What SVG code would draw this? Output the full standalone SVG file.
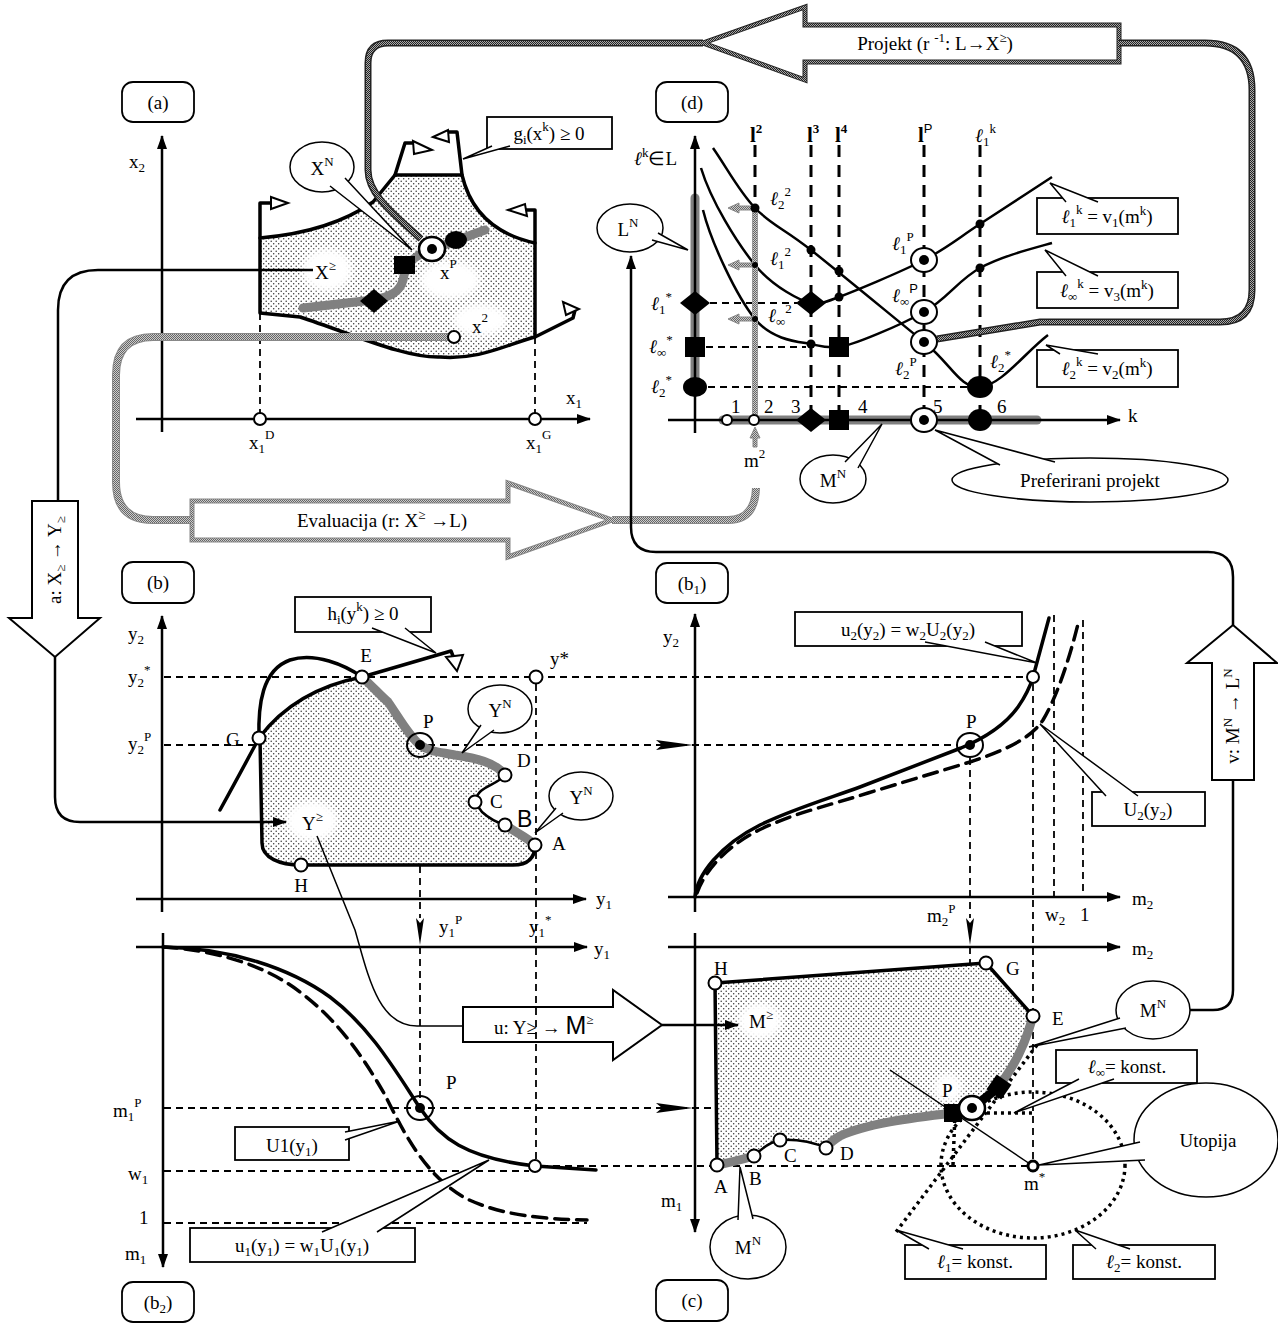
<svg xmlns="http://www.w3.org/2000/svg" width="1278" height="1323" viewBox="0 0 1278 1323">
<defs>
<style>
.t{font-family:"Liberation Serif","Times New Roman",serif;font-size:19px;fill:#000}
.c{text-anchor:middle}
.s{font-size:13px}
.it{font-style:italic}
.bd{font-weight:bold;font-size:21px}
.ax{stroke:#000;stroke-width:2.5;fill:none}
.ds{stroke:#000;stroke-width:1.8;stroke-dasharray:7 5;fill:none}
.td{stroke:#000;stroke-width:3;stroke-dasharray:12 8;fill:none}
.th{stroke:#000;stroke-width:3.5;fill:none;stroke-linejoin:round;stroke-linecap:round}
.md{stroke:#000;stroke-width:2.5;fill:none;stroke-linejoin:round}
.gr{stroke:#808080;stroke-width:9;fill:none;stroke-linecap:round;stroke-linejoin:round}
.oc{fill:#fff;stroke:#000;stroke-width:2}
.tn{stroke:#000;stroke-width:1.5;fill:none}
.bx{fill:#fff;stroke:#000;stroke-width:1.8}
.cw{fill:#fff;stroke:#000;stroke-width:1.5}
.dt{stroke:#000;stroke-width:3.5;stroke-dasharray:3 4;fill:none}
.ht{fill:#fff;stroke:#000;stroke-width:2}
.lab{fill:#fff;stroke:#000;stroke-width:1.8}
.bl{fill:#000}
.reg{fill:url(#st)}
.blob{fill:#fff;filter:url(#blur)}
.pk1{stroke:#222;stroke-width:7;fill:none}
.pk2{stroke:url(#ck);stroke-width:4;fill:none}
.pg1{stroke:#888;stroke-width:8;fill:none}
.pg2{stroke:url(#ckg);stroke-width:6;fill:none}
</style>
<pattern id="st" width="5" height="5" patternUnits="userSpaceOnUse"><rect width="5" height="5" fill="#fff"/><circle cx="1.2" cy="1.2" r="0.75" fill="#333"/><circle cx="3.7" cy="3.7" r="0.75" fill="#333"/></pattern>
<pattern id="ck" width="2" height="2" patternUnits="userSpaceOnUse"><rect width="2" height="2" fill="#aaa"/><rect width="1" height="1" fill="#222"/><rect x="1" y="1" width="1" height="1" fill="#222"/></pattern>
<pattern id="ckg" width="2" height="2" patternUnits="userSpaceOnUse"><rect width="2" height="2" fill="#ccc"/><rect width="1" height="1" fill="#666"/><rect x="1" y="1" width="1" height="1" fill="#666"/></pattern>
<filter id="blur" x="-50%" y="-50%" width="200%" height="200%"><feGaussianBlur stdDeviation="3"/></filter>
<marker id="ah" viewBox="0 0 14 10" refX="13" refY="5" markerWidth="14" markerHeight="10" markerUnits="userSpaceOnUse" orient="auto"><path d="M0,0 L14,5 L0,10 z" fill="#000"/></marker>
</defs>
<rect width="1278" height="1323" fill="#fff"/>

<g id="arrow-projekt">
  <polygon points="1119,25 805,25 805,7 703,43 805,80 805,62 1119,62" fill="#fff" stroke="#222" stroke-width="5"/>
  <polygon points="1119,25 805,25 805,7 703,43 805,80 805,62 1119,62" fill="none" stroke="url(#ck)" stroke-width="3"/>
  <text class="t c" x="935" y="50" font-size="20">Projekt (r <tspan class="s" dy="-8">-1</tspan><tspan dy="8">: L→X</tspan><tspan class="s" dy="-8">≥</tspan><tspan dy="8">)</tspan></text>
</g>

<g id="arrow-evaluacija">
  <polygon points="192,501 508,501 508,483 612,520 508,557 508,540 192,540" fill="#fff" stroke="#888" stroke-width="5"/>
  <polygon points="192,501 508,501 508,483 612,520 508,557 508,540 192,540" fill="none" stroke="url(#ckg)" stroke-width="3"/>
  <text class="t c" x="382" y="527" font-size="20">Evaluacija (r: X<tspan class="s" dy="-8">≥</tspan><tspan dy="8"> →L)</tspan></text>
</g>

<g id="arrow-a">
  <polygon points="32,501 78,501 78,618 100,618 55,657 9,618 32,618" class="ht"/>
  <text class="t c" transform="translate(61,560) rotate(-90)" font-size="18">a: X<tspan class="s" dy="4">≥</tspan><tspan dy="-4"> → Y</tspan><tspan class="s" dy="4">≥</tspan></text>
</g>

<g id="arrow-v">
  <polygon points="1212,780 1212,663 1187,663 1233,625 1277,663 1254,663 1254,780" class="ht"/>
  <text class="t c" transform="translate(1239,716) rotate(-90)" font-size="18">v: M<tspan class="s" dy="-7">N</tspan><tspan dy="7"> → L</tspan><tspan class="s" dy="-7">N</tspan></text>
</g>

<g id="arrow-u">
  <polygon points="463,1007 613,1007 613,990 662,1025 613,1060 613,1042 463,1042" class="ht"/>
  <text class="t" x="494" y="1034">u: Y≥ → <tspan font-family="Liberation Sans, Arial, sans-serif" font-size="25">M</tspan><tspan class="s" dy="-10">≥</tspan></text>
</g>

<!-- ================= PANEL A ================= -->
<g id="panel-a">
  <rect class="lab" x="122" y="82" width="72" height="40" rx="11"/>
  <text class="t c" x="158" y="109" font-size="20">(a)</text>
  <path class="ax" d="M162,432 V136" marker-end="url(#ah)"/>
  <path class="ax" d="M136,419 H590" marker-end="url(#ah)"/>
  <path class="ds" d="M260,313 V413 M535,337 V413"/>
  <path class="reg" d="M260,238 Q330,232 373,202 L395,175 L462,175 Q475,230 535,243 L535,337 C505,345 480,360 440,357 C405,358 355,335 300,317 L260,313 Z"/>
  <ellipse class="blob" cx="327" cy="270" rx="25" ry="21"/>
  <ellipse class="blob" cx="450" cy="280" rx="30" ry="19"/>
  <ellipse class="blob" cx="480" cy="320" rx="27" ry="16"/>
  <path class="th" d="M260,238 Q330,232 373,202 L395,175 L462,175 Q475,230 535,243 L535,337 C505,345 480,360 440,357 C405,358 355,335 300,317 L260,313 Z"/>
  <path class="th" d="M260,238 V203 H270 M395,175 L405,143 H413 M462,175 L457,132 H448 M535,243 V210 H526 M535,337 L573,318 L575,310"/>
  <polygon class="ht" points="271,197 288,203 271,209"/>
  <polygon class="ht" points="413,141 432,150 414,154"/>
  <polygon class="ht" points="433,137 448,130 449,142"/>
  <polygon class="ht" points="508,210 525,204 527,216"/>
  <polygon class="ht" points="563,302 579,309 566,315"/>
  <path class="gr" d="M303,308 L373,300 C390,297 400,292 403,280 C405,268 410,258 425,252 L485,230"/>
  <polygon class="bl" points="360,301 374,289 388,301 374,313"/>
  <rect class="bl" x="394" y="256" width="21" height="18"/>
  <ellipse cx="432" cy="249" rx="13" ry="12" fill="#fff" stroke="#000" stroke-width="2.5"/>
  <circle class="bl" cx="432" cy="249" r="5"/>
  <ellipse class="bl" cx="456" cy="240" rx="11" ry="9"/>
  <circle class="oc" cx="260" cy="419" r="6"/>
  <circle class="oc" cx="535" cy="419" r="6"/>
  <text class="t" x="129" y="168">x<tspan class="s" dy="4">2</tspan></text>
  <text class="t" x="566" y="404">x<tspan class="s" dy="4">1</tspan></text>
  <text class="t" x="249" y="449">x<tspan class="s" dy="4">1</tspan><tspan class="s" dy="-14">D</tspan></text>
  <text class="t" x="526" y="449">x<tspan class="s" dy="4">1</tspan><tspan class="s" dy="-14">G</tspan></text>
  <text class="t" x="315" y="279">X<tspan class="s" dy="-9">≥</tspan></text>
  <text class="t" x="440" y="279">x<tspan class="s" dy="-11">P</tspan></text>
  <text class="t" x="472" y="333">x<tspan class="s" dy="-11">2</tspan></text>
</g>

<!-- ================= PANEL D ================= -->
<g id="panel-d">
  <rect class="lab" x="656" y="82" width="72" height="40" rx="11"/>
  <text class="t c" x="692" y="109" font-size="20">(d)</text>
  <path class="gr" d="M695,198 V387" stroke-width="10" stroke-linecap="butt"/>
  <path class="gr" d="M723,420 H1037" stroke-width="10" stroke-linecap="butt"/>
  <path class="ax" d="M695,433 V136" marker-end="url(#ah)"/>
  <path class="ax" d="M668,420 H1120" marker-end="url(#ah)"/>
  <path class="td" d="M755,145 V205 M811,145 V420 M839,145 V420 M924,145 V420 M980,145 V420"/>
  <path class="ds" d="M710,303 H797 M706,347 H806 M708,387 H968"/>
  <path class="md" d="M713,148 C727,168 738.7,191 755,208 C771.3,225 782.8,227.7 811,250 C839.2,272.3 895.8,319.2 924,342 C952.2,364.8 959.3,388.2 980,387 C1000.7,385.8 1025.3,352.3 1048,335"/>
  <path class="md" d="M701,168 C711,201 736.7,242.5 755,265 C773.3,287.5 801.7,301.3 811,303 C820.3,304.7 825,302.3 839,297 C853,291.7 900.5,272.2 924,260 C947.5,247.8 958.7,237.8 980,224 C1001.3,210.2 1028,192.7 1052,177"/>
  <path class="md" d="M703,210 C711.3,243.3 737,296.7 755,319 C773,341.3 801.7,342 811,344 C820.3,346 825.7,348.3 839,347 C852.3,345.7 900.5,325.2 924,312 C947.5,298.8 958.7,279.5 980,268 C1001.3,256.5 1028,249.7 1052,243"/>
  <path stroke="#999" stroke-width="6" fill="none" d="M755,208 V420"/>
  <path stroke="url(#ckg)" stroke-width="4" fill="none" d="M755,208 V420"/>
  <g fill="url(#ckg)" stroke="#888" stroke-width="1">
    <path d="M752,206 H739 V203 L728,208 L739,213 V210 H752 Z"/>
    <path d="M752,263 H739 V260 L728,265 L739,270 V267 H752 Z"/>
    <path d="M752,317 H739 V314 L728,319 L739,324 V321 H752 Z"/>
    <path d="M753,447 V438 H750 L755,427 L760,438 H757 V447 Z"/>
  </g>
  <g class="bl">
    <circle cx="755" cy="208" r="4.5"/><circle cx="811" cy="250" r="4.5"/><circle cx="839" cy="271" r="4.5"/>
    <circle cx="839" cy="297" r="4.5"/><circle cx="811" cy="344" r="4.5"/><circle cx="980" cy="224" r="4.5"/>
    <circle cx="980" cy="268" r="4.5"/><circle cx="755" cy="265" r="3"/><circle cx="755" cy="319" r="3"/>
  </g>
  <polygon class="bl" points="680,303 695,291 710,303 695,315"/>
  <rect class="bl" x="685" y="337" width="20" height="20"/>
  <ellipse class="bl" cx="695" cy="387" rx="12" ry="10"/>
  <polygon class="bl" points="796,303 811,291 826,303 811,315"/>
  <rect class="bl" x="829" y="337" width="20" height="20"/>
  <ellipse class="bl" cx="980" cy="387" rx="13" ry="11"/>
  <polygon class="bl" points="796,420 811,408 826,420 811,432"/>
  <rect class="bl" x="829" y="410" width="20" height="20"/>
  <ellipse class="bl" cx="980" cy="420" rx="12" ry="11"/>
  <circle class="oc" cx="727" cy="420" r="5"/>
  <circle class="oc" cx="754" cy="420" r="5"/>
  <g>
    <ellipse cx="924" cy="260" rx="13" ry="12" fill="#fff" stroke="#000" stroke-width="2"/><circle class="bl" cx="924" cy="260" r="5"/>
    <ellipse cx="924" cy="312" rx="13" ry="12" fill="#fff" stroke="#000" stroke-width="2"/><circle class="bl" cx="924" cy="312" r="5"/>
    <ellipse cx="924" cy="420" rx="13" ry="12" fill="#fff" stroke="#000" stroke-width="2"/><circle class="bl" cx="924" cy="420" r="5"/>
  </g>
  <text class="t" x="634" y="165"><tspan class="it">ℓ</tspan><tspan class="s" dy="-8">k</tspan><tspan dy="8">∈L</tspan></text>
  <text class="t bd" x="750" y="142">l<tspan class="s" dy="-9">2</tspan></text>
  <text class="t bd" x="807" y="142">l<tspan class="s" dy="-9">3</tspan></text>
  <text class="t bd" x="835" y="142">l<tspan class="s" dy="-9">4</tspan></text>
  <text class="t bd" x="918" y="142">l<tspan class="s" dy="-9" font-family="Liberation Sans, Arial, sans-serif" font-weight="normal">P</tspan></text>
  <text class="t" x="975" y="142"><tspan class="it">ℓ</tspan><tspan class="s" dy="4">1</tspan><tspan class="s" dy="-13">k</tspan></text>
  <text class="t" x="770" y="205"><tspan class="it">ℓ</tspan><tspan class="s" dy="4">2</tspan><tspan class="s" dy="-13">2</tspan></text>
  <text class="t" x="770" y="265"><tspan class="it">ℓ</tspan><tspan class="s" dy="4">1</tspan><tspan class="s" dy="-13">2</tspan></text>
  <text class="t" x="768" y="322"><tspan class="it">ℓ</tspan><tspan class="s" dy="4">∞</tspan><tspan class="s" dy="-13">2</tspan></text>
  <text class="t" x="651" y="310"><tspan class="it">ℓ</tspan><tspan class="s" dy="4">1</tspan><tspan class="s" dy="-13">*</tspan></text>
  <text class="t" x="649" y="353"><tspan class="it">ℓ</tspan><tspan class="s" dy="4">∞</tspan><tspan class="s" dy="-13">*</tspan></text>
  <text class="t" x="651" y="393"><tspan class="it">ℓ</tspan><tspan class="s" dy="4">2</tspan><tspan class="s" dy="-13">*</tspan></text>
  <text class="t" x="892" y="250"><tspan class="it">ℓ</tspan><tspan class="s" dy="4">1</tspan><tspan class="s" dy="-13">P</tspan></text>
  <text class="t" x="892" y="302"><tspan class="it">ℓ</tspan><tspan class="s" dy="4">∞</tspan><tspan class="s" dy="-13" font-family="Liberation Sans, Arial, sans-serif">P</tspan></text>
  <text class="t" x="895" y="375"><tspan class="it">ℓ</tspan><tspan class="s" dy="4">2</tspan><tspan class="s" dy="-13">P</tspan></text>
  <text class="t" x="990" y="368"><tspan class="it">ℓ</tspan><tspan class="s" dy="4">2</tspan><tspan class="s" dy="-13">*</tspan></text>
  <text class="t" x="731" y="413">1</text>
  <text class="t" x="764" y="413">2</text>
  <text class="t" x="791" y="413">3</text>
  <text class="t" x="858" y="413">4</text>
  <text class="t" x="933" y="413">5</text>
  <text class="t" x="997" y="413">6</text>
  <text class="t" x="1128" y="422">k</text>
  <text class="t" x="744" y="467">m<tspan class="s" dy="-9">2</tspan></text>
</g>

<!-- ================= PANEL B ================= -->
<g id="panel-b">
  <rect class="lab" x="122" y="562" width="72" height="41" rx="11"/>
  <text class="t c" x="158" y="589" font-size="20">(b)</text>
  <path class="ax" d="M162,912 V616" marker-end="url(#ah)"/>
  <path class="ax" d="M136,899 H586" marker-end="url(#ah)"/>
  <path class="ds" d="M164,677 H1026 M164,745 H958 M420,758 V918 M536,684 V1160"/>
  <polygon class="bl" points="656,740 693,745 656,750 662,745"/>
  <polygon class="bl" points="416,918 420,945 424,918 420,923"/>
  <path class="reg" d="M362,677 C372,686 380,695 388,702 C398,716 408,735 420,745 C430,752 440,752 455,755 C475,758 495,762 505,775 C495,787 478,785 475,802 L482,812 Q492,821 505,825 C515,832 528,838 535,845 C535,858 528,865 513,865 L301,865 C280,865 262,858 262,843 L260,738 Q295,690 362,677 Z"/>
  <ellipse class="blob" cx="312" cy="821" rx="26" ry="20"/>
  <path class="gr" d="M362,677 C372,686 380,695 388,702 C398,716 408,735 420,745 C430,752 440,752 455,755 C475,758 495,762 505,775"/>
  <path class="gr" d="M505,825 C515,832 528,838 535,845"/>
  <path class="md" d="M505,775 C495,787 478,785 475,802 L482,812 Q492,821 505,825"/>
  <path class="th" d="M535,845 C535,858 528,865 513,865 L301,865 C280,865 262,858 262,843 L260,738"/>
  <path class="th" d="M220,810 Q242,770 259,738 Q295,690 362,677 L451,651 L453,656"/>
  <path class="th" d="M259,738 C258,705 262,670 290,660 C315,652 345,665 362,677"/>
  <polygon class="ht" points="446,657 463,655 457,671"/>
  <circle class="oc" cx="362" cy="677" r="6.5"/>
  <circle class="oc" cx="259" cy="738" r="6.5"/>
  <circle class="oc" cx="301" cy="865" r="6.5"/>
  <circle class="oc" cx="535" cy="845" r="6.5"/>
  <circle class="oc" cx="505" cy="825" r="6.5"/>
  <circle class="oc" cx="475" cy="802" r="6.5"/>
  <circle class="oc" cx="505" cy="775" r="6.5"/>
  <circle class="oc" cx="536" cy="677" r="6.5"/>
  <ellipse cx="420" cy="745" rx="13" ry="12" fill="none" stroke="#000" stroke-width="2"/>
  <circle class="bl" cx="420" cy="745" r="5"/>
  <text class="t" x="128" y="640">y<tspan class="s" dy="4">2</tspan></text>
  <text class="t" x="128" y="683">y<tspan class="s" dy="4">2</tspan><tspan class="s" dy="-13">*</tspan></text>
  <text class="t" x="128" y="750">y<tspan class="s" dy="4">2</tspan><tspan class="s" dy="-13">P</tspan></text>
  <text class="t" x="596" y="905">y<tspan class="s" dy="4">1</tspan></text>
  <text class="t" x="439" y="933">y<tspan class="s" dy="4">1</tspan><tspan class="s" dy="-13">P</tspan></text>
  <text class="t" x="529" y="933">y<tspan class="s" dy="4">1</tspan><tspan class="s" dy="-13">*</tspan></text>
  <text class="t c" x="366" y="662">E</text>
  <text class="t" x="226" y="746">G</text>
  <text class="t" x="423" y="728">P</text>
  <text class="t" x="517" y="767">D</text>
  <text class="t" x="490" y="808">C</text>
  <text x="517" y="827" font-family="Liberation Sans, Arial, sans-serif" font-size="23">B</text>
  <text class="t" x="552" y="850">A</text>
  <text class="t c" x="301" y="892">H</text>
  <text class="t" x="550" y="665">y*</text>
  <text class="t" x="302" y="830">Y<tspan class="s" dy="-9">≥</tspan></text>
</g>

<!-- ================= PANEL B1 ================= -->
<g id="panel-b1">
  <rect class="lab" x="656" y="563" width="72" height="40" rx="11"/>
  <text class="t c" x="692" y="590" font-size="20">(b<tspan class="s" dy="4">1</tspan><tspan dy="-4">)</tspan></text>
  <path class="ax" d="M695,912 V614" marker-end="url(#ah)"/>
  <path class="ax" d="M668,897 H1120" marker-end="url(#ah)"/>
  <path class="ds" d="M970,758 V918 M1033,684 V1160 M1054,615 V897 M1083,620 V897" />
  <polygon class="bl" points="966,918 970,945 974,918 970,923"/>
  <path class="th" d="M695,897 C697,875 720,845 760,825 C790,810 830,798 860,787 L961,748 C985,738 1005,725 1018,707 C1025,697 1030,687 1033,677 L1049,618" stroke-width="3"/>
  <path class="th" d="M697,893 C705,870 730,840 775,823 C800,812 830,805 868,793 L970,762 C1000,752 1030,740 1043,720 C1055,700 1068,665 1079,620" stroke-width="3.5" stroke-dasharray="14 8" stroke-linecap="butt"/>
  <circle class="oc" cx="1033" cy="677" r="6"/>
  <ellipse cx="970" cy="745" rx="13" ry="12" fill="none" stroke="#000" stroke-width="2"/>
  <circle class="bl" cx="970" cy="745" r="5"/>
  <text class="t" x="663" y="643">y<tspan class="s" dy="4">2</tspan></text>
  <text class="t" x="966" y="728">P</text>
  <text class="t" x="1132" y="905">m<tspan class="s" dy="4">2</tspan></text>
  <text class="t" x="927" y="922">m<tspan class="s" dy="4">2</tspan><tspan class="s" dy="-13">P</tspan></text>
  <text class="t" x="1045" y="921">w<tspan class="s" dy="4">2</tspan></text>
  <text class="t" x="1080" y="921">1</text>
</g>

<!-- ================= PANEL B2 ================= -->
<g id="panel-b2">
  <path class="ax" d="M136,947 H587" marker-end="url(#ah)"/>
  <path class="ax" d="M163,933 V1267" marker-end="url(#ah)"/>
  <path class="ds" d="M420,947 V1108 M164,1108 H958 M164,1171 H529 M541,1166 H1028 M164,1223 H587"/>
  <polygon class="bl" points="656,1103 693,1108 656,1113 662,1108"/>
  <path class="th" d="M163,947 C230,948 290,968 330,997 C370,1027 395,1070 420,1108 C440,1138 465,1158 535,1166 L596,1170" stroke-width="3"/>
  <path class="th" d="M163,947 C215,950 265,965 300,992 C340,1022 365,1060 385,1095 C405,1135 425,1175 465,1198 C500,1215 540,1219 587,1220" stroke-width="3.5" stroke-dasharray="14 8" stroke-linecap="butt"/>
  <circle class="oc" cx="535" cy="1166" r="6"/>
  <ellipse cx="420" cy="1108" rx="13" ry="12" fill="none" stroke="#000" stroke-width="2"/>
  <circle class="bl" cx="420" cy="1108" r="5"/>
  <text class="t" x="594" y="955">y<tspan class="s" dy="4">1</tspan></text>
  <text class="t" x="113" y="1117">m<tspan class="s" dy="4">1</tspan><tspan class="s" dy="-14">P</tspan></text>
  <text class="t" x="128" y="1180">w<tspan class="s" dy="4">1</tspan></text>
  <text class="t" x="139" y="1224">1</text>
  <text class="t" x="125" y="1260">m<tspan class="s" dy="4">1</tspan></text>
  <text class="t" x="446" y="1089">P</text>
  <rect class="lab" x="122" y="1282" width="72" height="40" rx="11"/>
  <text class="t c" x="158" y="1309" font-size="20">(b<tspan class="s" dy="4">2</tspan><tspan dy="-4">)</tspan></text>
</g>

<!-- ================= PANEL C ================= -->
<g id="panel-c">
  <path class="ax" d="M668,947 H1120" marker-end="url(#ah)"/>
  <path class="ax" d="M695,933 V1232" marker-end="url(#ah)"/>
  <path class="ds" d="M970,947 V1100"/>
  <path class="reg" d="M715,983 L986,963 L1033,1016 C1025,1045 1012,1070 998,1087 L972,1108 L953,1113 C910,1118 865,1124 840,1136 C833,1140 829,1144 826,1148 C815,1143 800,1139 780,1140 C770,1142 762,1148 754,1156 C740,1160 728,1163 717,1165 Z"/>
  <ellipse class="blob" cx="760" cy="1021" rx="22" ry="18"/>
  <ellipse class="blob" cx="948" cy="1088" rx="14" ry="14"/>
  <path class="th" d="M717,1165 L715,983 L986,963 L1033,1016"/>
  <path class="gr" d="M1033,1016 C1025,1045 1012,1070 998,1087"/>
  <path class="gr" d="M953,1113 C910,1118 865,1124 840,1136 C833,1140 829,1144 826,1148"/>
  <path class="gr" d="M754,1156 C740,1160 728,1163 717,1165"/>
  <path class="md" d="M826,1148 C815,1143 800,1139 780,1140 C770,1142 762,1148 754,1156"/>
  <path stroke="#000" stroke-width="9" d="M999,1087 L975,1106"/>
  <path class="tn" d="M890,1070 L1033,1166"/>
  <path class="dt" d="M1037,1045 L896,1232"/>
  <path class="dt" d="M953,1165 L955,1113 L1033,1113"/>
  <ellipse class="dt" cx="1033" cy="1165" rx="92" ry="73"/>
  <rect class="bl" x="-9" y="-9" width="18" height="18" transform="translate(999,1087) rotate(35)"/>
  <rect class="bl" x="944" y="1104" width="18" height="18"/>
  <ellipse cx="972" cy="1108" rx="13" ry="12" fill="#fff" stroke="#000" stroke-width="2.5"/>
  <circle class="bl" cx="972" cy="1108" r="5"/>
  <circle class="oc" cx="715" cy="983" r="6.5"/>
  <circle class="oc" cx="986" cy="963" r="6.5"/>
  <circle class="oc" cx="1033" cy="1016" r="6.5"/>
  <circle class="oc" cx="826" cy="1148" r="6.5"/>
  <circle class="oc" cx="780" cy="1140" r="6.5"/>
  <circle class="oc" cx="754" cy="1156" r="6.5"/>
  <circle class="oc" cx="717" cy="1165" r="6.5"/>
  <circle cx="1033" cy="1166" r="5" fill="#fff" stroke="#000" stroke-width="3"/>
  <text class="t" x="1132" y="955">m<tspan class="s" dy="4">2</tspan></text>
  <text class="t" x="661" y="1207">m<tspan class="s" dy="4">1</tspan></text>
  <text class="t" x="714" y="975">H</text>
  <text class="t" x="1006" y="975">G</text>
  <text class="t" x="1052" y="1025">E</text>
  <text class="t" x="942" y="1097">P</text>
  <text class="t" x="840" y="1160">D</text>
  <text class="t" x="784" y="1162">C</text>
  <text class="t" x="749" y="1185">B</text>
  <text class="t" x="714" y="1193">A</text>
  <text class="t" x="1024" y="1190">m<tspan class="s" dy="-9">*</tspan></text>
  <text class="t" x="749" y="1028">M<tspan class="s" dy="-9">≥</tspan></text>
  <rect class="lab" x="656" y="1280" width="72" height="41" rx="11"/>
  <text class="t c" x="692" y="1307" font-size="20">(c)</text>
</g>

<g id="connectors">
  <path class="pk1" d="M703,43 H388 Q368,43 368,63 V170 C368,195 395,215 421,239"/>
  <path class="pk2" d="M703,43 H388 Q368,43 368,63 V170 C368,195 395,215 421,239"/>
  <path class="pk1" d="M1119,43 H1205 Q1252,43 1252,90 V290 Q1252,322 1220,322 H1040 L937,339"/>
  <path class="pk2" d="M1119,43 H1205 Q1252,43 1252,90 V290 Q1252,322 1220,322 H1040 L937,339"/>
  <path class="pg1" d="M448,337 H153 Q116,337 116,375 V482 Q116,520 153,520 H192"/>
  <path class="pg2" d="M448,337 H153 Q116,337 116,375 V482 Q116,520 153,520 H192"/>
  <path class="pg1" d="M612,520 H728 Q755,520 756,488"/>
  <path class="pg2" d="M612,520 H728 Q755,520 756,488"/>
  <path class="md" d="M58,501 V310 Q58,270 98,270 H313"/>
  <path class="md" d="M55,657 V797 Q55,822 80,822 H286" marker-end="url(#ah)"/>
  <path class="md" d="M1233,625 V577 Q1233,552 1208,552 H656 Q631,552 631,527 V256" marker-end="url(#ah)"/>
  <path class="md" d="M1233,780 V990 Q1233,1010 1213,1010 H1190"/>
  <path class="tn" d="M317,836 L355,930 C368,975 378,1026 417,1026 H463"/>
  <path class="md" d="M662,1025 H738" marker-end="url(#ah)"/>
  <circle class="oc" cx="454" cy="337" r="6"/>
  <ellipse cx="924" cy="342" rx="13" ry="12" fill="#fff" stroke="#000" stroke-width="2"/><circle class="bl" cx="924" cy="342" r="5"/>
</g>

<g id="callout-xn">
  <ellipse class="cw" cx="322" cy="167" rx="32" ry="25"/>
  <path class="cw" d="M330,186 L412,250 L345,178"/>
  <text class="t c" x="322" y="175" font-size="20">X<tspan class="s" dy="-9">N</tspan></text>
</g>
<g id="callout-g">
  <rect class="bx" x="487" y="117" width="125" height="32"/>
  <path class="cw" d="M492,146 L463,159 L510,146"/>
  <text class="t c" x="549" y="140" font-size="20">g<tspan class="s" dy="4">i</tspan><tspan dy="-4">(x</tspan><tspan class="s" dy="-9">k</tspan><tspan dy="9">) ≥ 0</tspan></text>
</g>
<g id="callout-ln">
  <ellipse class="cw" cx="630" cy="228" rx="33" ry="24"/>
  <path class="cw" d="M652,240 L688,250 L658,233"/>
  <text class="t c" x="628" y="236">L<tspan class="s" dy="-9">N</tspan></text>
</g>
<g id="callout-mn-d">
  <ellipse class="cw" cx="833" cy="479" rx="33" ry="24"/>
  <path class="cw" d="M845,462 L882,424 L858,468"/>
  <text class="t c" x="833" y="487">M<tspan class="s" dy="-9">N</tspan></text>
</g>
<g id="callout-pref">
  <ellipse class="cw" cx="1090" cy="480" rx="138" ry="22"/>
  <path class="cw" d="M1000,465 L935,430 L1055,462"/>
  <text class="t c" x="1090" y="487">Preferirani projekt</text>
</g>
<g id="callout-v1">
  <rect class="bx" x="1037" y="198" width="141" height="36"/>
  <path class="cw" d="M1066,202 L1050,183 L1098,202"/>
  <text class="t c" x="1107" y="223"><tspan class="it">ℓ</tspan><tspan class="s" dy="4">1</tspan><tspan class="s" dy="-13">k</tspan><tspan dy="9"> = v</tspan><tspan class="s" dy="4">1</tspan><tspan dy="-4">(m</tspan><tspan class="s" dy="-8">k</tspan><tspan dy="8">)</tspan></text>
</g>
<g id="callout-v3">
  <rect class="bx" x="1037" y="272" width="141" height="36"/>
  <path class="cw" d="M1066,276 L1045,250 L1098,276"/>
  <text class="t c" x="1107" y="297"><tspan class="it">ℓ</tspan><tspan class="s" dy="4">∞</tspan><tspan class="s" dy="-13">k</tspan><tspan dy="9"> = v</tspan><tspan class="s" dy="4">3</tspan><tspan dy="-4">(m</tspan><tspan class="s" dy="-8">k</tspan><tspan dy="8">)</tspan></text>
</g>
<g id="callout-v2">
  <rect class="bx" x="1037" y="350" width="141" height="37"/>
  <path class="cw" d="M1060,354 L1046,345 L1098,354"/>
  <text class="t c" x="1107" y="375"><tspan class="it">ℓ</tspan><tspan class="s" dy="4">2</tspan><tspan class="s" dy="-13">k</tspan><tspan dy="9"> = v</tspan><tspan class="s" dy="4">2</tspan><tspan dy="-4">(m</tspan><tspan class="s" dy="-8">k</tspan><tspan dy="8">)</tspan></text>
</g>
<g id="callout-h">
  <rect class="bx" x="295" y="597" width="136" height="35"/>
  <path class="cw" d="M372,628 L436,653 L405,628"/>
  <text class="t c" x="363" y="620" font-size="20">h<tspan class="s" dy="4">i</tspan><tspan dy="-4">(y</tspan><tspan class="s" dy="-9">k</tspan><tspan dy="9">) ≥ 0</tspan></text>
</g>
<g id="callout-yn1">
  <ellipse class="cw" cx="500" cy="709" rx="32" ry="24"/>
  <path class="cw" d="M481,725 L462,753 L494,730"/>
  <text class="t c" x="500" y="717">Y<tspan class="s" dy="-9">N</tspan></text>
</g>
<g id="callout-yn2">
  <ellipse class="cw" cx="581" cy="796" rx="32" ry="24"/>
  <path class="cw" d="M556,808 L535,833 L563,813"/>
  <text class="t c" x="581" y="804">Y<tspan class="s" dy="-9">N</tspan></text>
</g>
<g id="callout-u2">
  <rect class="bx" x="795" y="612" width="227" height="34"/>
  <path class="cw" d="M925,642 L1037,663 L985,642"/>
  <text class="t c" x="908" y="636">u<tspan class="s" dy="4">2</tspan><tspan dy="-4">(y</tspan><tspan class="s" dy="4">2</tspan><tspan dy="-4">) = w</tspan><tspan class="s" dy="4">2</tspan><tspan dy="-4">U</tspan><tspan class="s" dy="4">2</tspan><tspan dy="-4">(y</tspan><tspan class="s" dy="4">2</tspan><tspan dy="-4">)</tspan></text>
</g>
<g id="callout-U2">
  <rect class="bx" x="1092" y="792" width="113" height="34"/>
  <path class="cw" d="M1106,796 L1040,724 L1138,796"/>
  <text class="t c" x="1148" y="816">U<tspan class="s" dy="4">2</tspan><tspan dy="-4">(y</tspan><tspan class="s" dy="4">2</tspan><tspan dy="-4">)</tspan></text>
</g>
<g id="callout-U1">
  <rect class="bx" x="235" y="1127" width="114" height="33"/>
  <path class="cw" d="M345,1132 L400,1121 L345,1140"/>
  <text class="t c" x="292" y="1152" font-size="21">U1(y<tspan class="s" dy="4" font-size="15">1</tspan><tspan dy="-4">)</tspan></text>
</g>
<g id="callout-u1">
  <rect class="bx" x="190" y="1228" width="225" height="34"/>
  <path class="cw" d="M322,1232 L489,1160 L377,1232"/>
  <text class="t c" x="302" y="1252">u<tspan class="s" dy="4">1</tspan><tspan dy="-4">(y</tspan><tspan class="s" dy="4">1</tspan><tspan dy="-4">) = w</tspan><tspan class="s" dy="4">1</tspan><tspan dy="-4">U</tspan><tspan class="s" dy="4">1</tspan><tspan dy="-4">(y</tspan><tspan class="s" dy="4">1</tspan><tspan dy="-4">)</tspan></text>
</g>
<g id="callout-mn-c1">
  <ellipse class="cw" cx="1153" cy="1010" rx="37" ry="29"/>
  <path class="cw" d="M1120,1018 L1029,1047 L1126,1028"/>
  <text class="t c" x="1153" y="1017">M<tspan class="s" dy="-9">N</tspan></text>
</g>
<g id="callout-linf">
  <rect class="bx" x="1056" y="1050" width="141" height="33"/>
  <path class="cw" d="M1079,1079 L1014,1113 L1114,1079"/>
  <text class="t c" x="1127" y="1073"><tspan class="it">ℓ</tspan><tspan class="s" dy="4">∞</tspan><tspan dy="-4">= konst.</tspan></text>
</g>
<g id="callout-utopija">
  <ellipse class="cw" cx="1206" cy="1140" rx="72" ry="57"/>
  <path class="cw" d="M1140,1142 L1039,1165 L1145,1160"/>
  <text class="t c" x="1208" y="1147">Utopija</text>
</g>
<g id="callout-l1">
  <rect class="bx" x="905" y="1245" width="141" height="34"/>
  <path class="cw" d="M929,1249 L896,1230 L963,1249"/>
  <text class="t c" x="975" y="1268"><tspan class="it">ℓ</tspan><tspan class="s" dy="4">1</tspan><tspan dy="-4">= konst.</tspan></text>
</g>
<g id="callout-l2">
  <rect class="bx" x="1073" y="1245" width="142" height="34"/>
  <path class="cw" d="M1096,1249 L1075,1230 L1130,1249"/>
  <text class="t c" x="1144" y="1268"><tspan class="it">ℓ</tspan><tspan class="s" dy="4">2</tspan><tspan dy="-4">= konst.</tspan></text>
</g>
<g id="callout-mn-c2">
  <ellipse class="cw" cx="748" cy="1247" rx="38" ry="32"/>
  <path class="cw" d="M738,1220 L740,1167 L753,1219"/>
  <text class="t c" x="748" y="1254">M<tspan class="s" dy="-9">N</tspan></text>
</g>
</svg>
